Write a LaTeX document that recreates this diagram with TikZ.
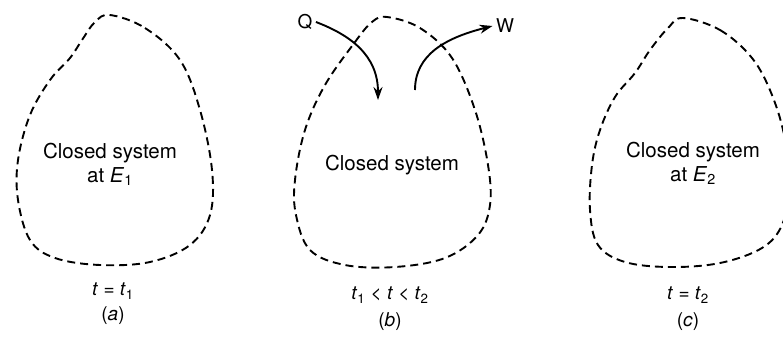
\documentclass[tikz,border=0pt]{standalone}
\usepackage{fontspec}
\setmainfont{TeX Gyre Heros}
\usetikzlibrary{arrows.meta,positioning}
\tikzset{
  boundary/.style={line width=1.9pt,dash pattern=on 8pt off 5pt},
  flow/.style={line width=1.9pt,-{Stealth[length=13pt,width=9pt]}},
  txt/.style={font=\fontsize{20.5}{24}\selectfont,align=center},
  lbl/.style={font=\fontsize{19}{22}\selectfont}
}
\begin{document}
\begin{tikzpicture}[x=1pt,y=-1pt]
\useasboundingbox (0,0) rectangle (783,338);
% (a) system at the start
\draw[boundary] plot[smooth cycle,tension=0.6] coordinates {
  (110,15) (145,28) (180,60) (200,110) (212,170) (210,215) (190,245)
  (150,262) (100,265) (55,258) (30,240) (18,200) (18,160) (30,115)
  (50,80) (70,58) (82,40) (95,22)};
\node[txt] (sysa) at (110,164) {Closed system\\at \textit{E}\textsubscript{1}};
\node[lbl] (ta) at (113,291) {\textit{t} = \textit{t}\textsubscript{1}};
\node[lbl] (capa) at (113,316) {(\textit{a})};
% (b) heat in, work out
\draw[boundary] plot[smooth cycle,tension=0.6] coordinates {
  (387,17) (420,28) (452,58) (475,110) (488,165) (490,205) (478,235)
  (445,258) (395,267) (345,265) (310,250) (296,215) (295,180) (305,130)
  (325,85) (355,42) (372,22)};
\node[txt] (sysb) at (392,165) {Closed system};
\node[lbl] (Q) at (305,22) {Q};
\node[lbl] (W) at (505,26) {W};
\coordinate (qin) at (378,100);
\coordinate (wout) at (415,90);
\draw[flow] (Q.east) .. controls (350,35) and (378,55) .. (qin);
\draw[flow] (wout) .. controls (415,55) and (445,38) .. (W.west);
\node[lbl] (tb) at (390,295) {\textit{t}\textsubscript{1} < \textit{t} < \textit{t}\textsubscript{2}};
\node[lbl] (capb) at (390,322) {(\textit{b})};
% (c) system at the end
\draw[boundary] plot[smooth cycle,tension=0.6] coordinates {
  (683,18) (720,30) (752,58) (772,95) (785,140) (788,190) (782,225)
  (762,248) (720,263) (670,267) (625,262) (598,245) (590,210) (592,165)
  (600,130) (615,97) (635,73) (650,50) (668,28)};
\node[txt] (sysc) at (693,163) {Closed system\\at \textit{E}\textsubscript{2}};
\node[lbl] (tc) at (688,295) {\textit{t} = \textit{t}\textsubscript{2}};
\node[lbl] (capc) at (688,322) {(\textit{c})};
\end{tikzpicture}
\end{document}
